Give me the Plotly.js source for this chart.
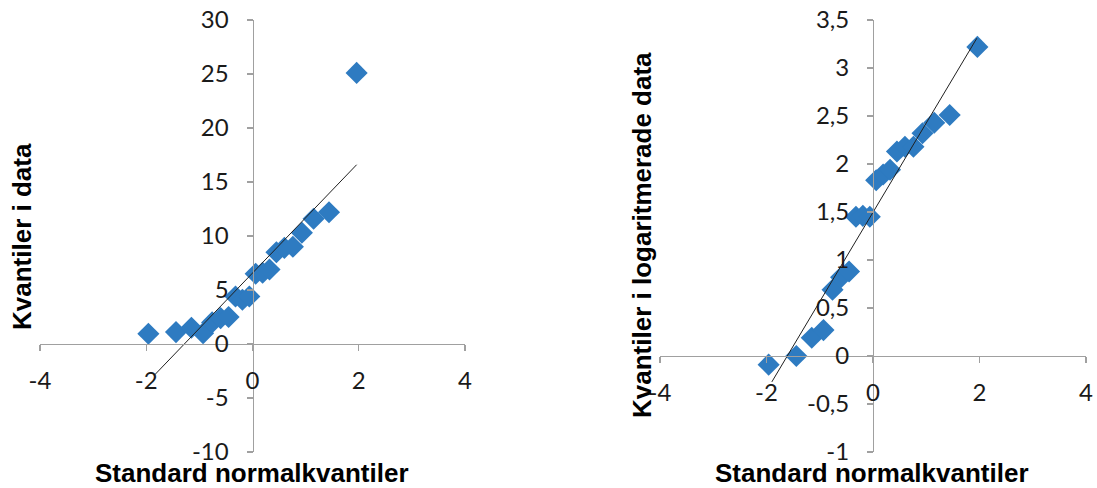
<!DOCTYPE html>
<html>
<head>
<meta charset="utf-8">
<script src="https://cdn.plot.ly/plotly-3.0.1.min.js"></script>
<style>
html,body{margin:0;padding:0;background:#fff;}
#chart{width:1097px;height:488px;}
</style>
</head>
<body>
<div id="chart"></div>
<script>
// ---- data ----
const normQuantiles = [-1.96, -1.44, -1.15, -0.93, -0.76, -0.60, -0.45, -0.32, -0.19, -0.06,
                        0.06, 0.19, 0.32, 0.45, 0.60, 0.76, 0.93, 1.15, 1.44, 1.96];
const dataQuantiles = [0.95, 1.1, 1.5, 1.0, 2.0, 2.4, 2.5, 4.4, 4.1, 4.4,
                       6.5, 6.6, 6.9, 8.5, 8.9, 9.0, 10.3, 11.6, 12.2, 25.1];
const logQuantiles  = [-0.09, 0.0, 0.19, 0.27, 0.69, 0.82, 0.88, 1.45, 1.46, 1.45,
                        1.83, 1.89, 1.94, 2.13, 2.18, 2.18, 2.32, 2.43, 2.51, 3.22];
const fitLeftX  = [-1.85, 1.96];
const fitLeftY  = [-2.9, 16.6];
const fitRightX = [-1.90, 1.95];
const fitRightY = [-0.27, 3.31];

const xTickVals = [-4, -2, 0, 2, 4];
const xTickText = ['-4', '-2', '0', '2', '4'];
const yLeftTickVals = [-10, -5, 0, 5, 10, 15, 20, 25, 30];
const yLeftTickText = ['-10', '-5', '0', '5', '10', '15', '20', '25', '30'];
const yRightTickVals = [-1, -0.5, 0, 0.5, 1, 1.5, 2, 2.5, 3, 3.5];
const yRightTickText = ['-1', '-0,5', '0', '0,5', '1', '1,5', '2', '2,5', '3', '3,5'];

const xTitle = 'Standard normalkvantiler';
const yLeftTitle = 'Kvantiler i data';
const yRightTitle = 'Kvantiler i logaritmerade data';

// ---- layout geometry ----
const W = 1097, H = 488;
const xDomL = [40 / W, 465 / W];
const xDomR = [660 / W, 1086 / W];
const yDom = [1 - 452 / H, 1 - 20 / H];
const xRange = [-4, 4], yRangeL = [-10, 30], yRangeR = [-1, 3.5];
function zeroPos(dom, rng) { return dom[0] + (0 - rng[0]) / (rng[1] - rng[0]) * (dom[1] - dom[0]); }

const blue = '#2E7BC1';
const axisGrey = '#a0a0a0';
const tickFont = {family: 'Lato, "Open Sans", sans-serif', size: 24, color: '#1a1a1a'};
const titleFont = {family: '"Liberation Sans", Arial, sans-serif', size: 26, color: '#000', weight: 'bold'};

function axisCommon(extra) {
  return Object.assign({
    showgrid: false, zeroline: false, showline: true, linecolor: axisGrey, linewidth: 1.3,
    ticks: 'outside', ticklen: 6, tickcolor: axisGrey, tickwidth: 1.3,
    tickfont: tickFont, fixedrange: true, ticklabelstandoff: 13
  }, extra);
}

const traces = [
  {x: normQuantiles, y: dataQuantiles, type: 'scatter', mode: 'markers', xaxis: 'x', yaxis: 'y',
   marker: {symbol: 'diamond', size: 17, color: blue}, hoverinfo: 'skip'},
  {x: fitLeftX, y: fitLeftY, type: 'scatter', mode: 'lines', xaxis: 'x', yaxis: 'y',
   line: {color: '#202020', width: 1}, hoverinfo: 'skip'},
  {x: normQuantiles, y: logQuantiles, type: 'scatter', mode: 'markers', xaxis: 'x2', yaxis: 'y2',
   marker: {symbol: 'diamond', size: 17, color: blue}, hoverinfo: 'skip'},
  {x: fitRightX, y: fitRightY, type: 'scatter', mode: 'lines', xaxis: 'x2', yaxis: 'y2',
   line: {color: '#202020', width: 1}, hoverinfo: 'skip'}
];

const layout = {
  width: W, height: H,
  margin: {l: 0, r: 0, t: 0, b: 0},
  paper_bgcolor: '#fff', plot_bgcolor: 'rgba(0,0,0,0)',
  showlegend: false,
  separators: ', ',
  xaxis: axisCommon({domain: xDomL, range: xRange, anchor: 'free', position: zeroPos(yDom, yRangeL),
                     tickvals: xTickVals, ticktext: xTickText, ticklabelstandoff: 9}),
  yaxis: axisCommon({domain: yDom, range: yRangeL, anchor: 'free', position: zeroPos(xDomL, xRange),
                     tickvals: yLeftTickVals, ticktext: yLeftTickText}),
  xaxis2: axisCommon({domain: xDomR, range: xRange, anchor: 'free', position: zeroPos(yDom, yRangeR),
                      tickvals: xTickVals, ticktext: xTickText, ticklabelstandoff: 9}),
  yaxis2: axisCommon({domain: yDom, range: yRangeR, anchor: 'free', position: zeroPos(xDomR, xRange),
                      tickvals: yRightTickVals, ticktext: yRightTickText}),
  annotations: [
    {text: xTitle, xref: 'paper', yref: 'paper', x: 252 / W, y: 1 - 473 / H, showarrow: false,
     font: titleFont, xanchor: 'center', yanchor: 'middle'},
    {text: xTitle, xref: 'paper', yref: 'paper', x: 872 / W, y: 1 - 473 / H, showarrow: false,
     font: titleFont, xanchor: 'center', yanchor: 'middle'},
    {text: yLeftTitle, xref: 'paper', yref: 'paper', x: 22 / W, y: 1 - 237 / H, showarrow: false,
     font: titleFont, textangle: -90, xanchor: 'center', yanchor: 'middle'},
    {text: yRightTitle, xref: 'paper', yref: 'paper', x: 642 / W, y: 1 - 235 / H, showarrow: false,
     font: titleFont, textangle: -90, xanchor: 'center', yanchor: 'middle'}
  ]
};

Plotly.newPlot('chart', traces, layout, {staticPlot: true, displayModeBar: false});
</script>
</body>
</html>
